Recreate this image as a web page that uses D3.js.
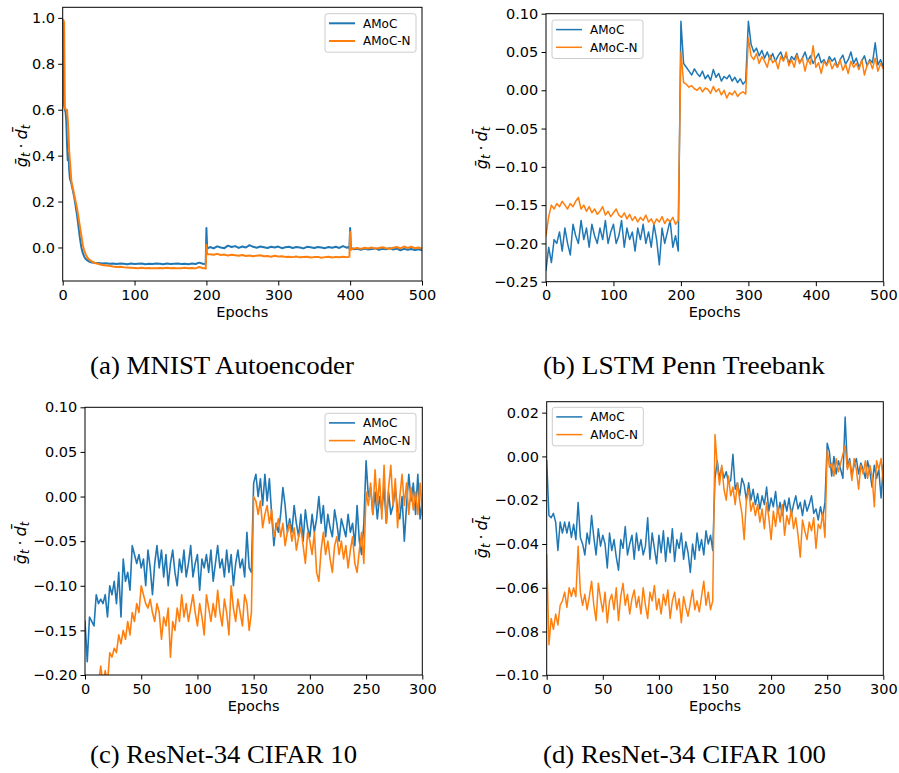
<!DOCTYPE html>
<html><head><meta charset="utf-8">
<script src="https://cdn.jsdelivr.net/npm/d3@7"></script>
<style>
html,body{margin:0;padding:0;background:#fff;}
svg{display:block;}
</style></head>
<body>
<svg id="chart" width="899" height="773"></svg>
<script>
// ---------- DATA ----------
const seriesNames = ["AMoC", "AMoC-N"];
const captions = ["(a) MNIST Autoencoder", "(b) LSTM Penn Treebank", "(c) ResNet-34 CIFAR 10", "(d) ResNet-34 CIFAR 100"];
const xLabel = "Epochs";

// (a) MNIST Autoencoder
const aEpochs = [0,1,2,3,4,5,6,7,8,9,10,12,14,16,18,20,22,24,26,28,30,32,34,36,38,40]
  .concat(d3.range(45,200,5), [198,199,200,201], d3.range(205,400,5), [398,399,400,401], d3.range(405,501,5));
const aBlue = [0.99,0.95,0.62,0.6,0.59,0.55,0.45,0.38,0.41,0.34,0.3,0.28,0.25,0.22,0.18,0.14,0.09,0.04,0.0,-0.025,-0.04,-0.05,-0.055,-0.06,-0.063,-0.065,
  -0.067,-0.068,-0.07,-0.069,-0.071,-0.07,-0.072,-0.07,-0.071,-0.073,-0.07,-0.072,-0.071,-0.07,-0.073,-0.071,-0.072,-0.07,-0.071,-0.073,-0.07,-0.072,-0.071,-0.07,-0.072,-0.071,-0.073,-0.07,-0.072,-0.066,-0.071,
  -0.072,-0.07,0.085,-0.005,
  0.002,-0.004,0.005,0.0,-0.003,0.008,0.002,0.006,-0.002,0.004,0.0,0.01,0.003,-0.001,0.004,0.001,-0.002,0.003,0.0,0.004,-0.003,0.001,0.003,-0.002,0.002,0.0,-0.004,0.003,0.001,-0.002,0.002,0.0,-0.003,0.002,-0.001,0.003,-0.002,0.006,-0.001,
  0.002,-0.005,0.085,0.0,
  -0.008,-0.006,-0.01,-0.005,-0.009,-0.007,-0.004,-0.01,-0.006,-0.008,-0.003,-0.009,-0.005,-0.012,-0.006,-0.01,-0.007,-0.011,-0.008,-0.012];
const aOrange = [0.99,0.99,0.98,0.61,0.6,0.6,0.6,0.56,0.5,0.42,0.38,0.29,0.26,0.23,0.2,0.17,0.13,0.09,0.05,0.01,-0.015,-0.03,-0.042,-0.05,-0.055,-0.06,
  -0.068,-0.072,-0.076,-0.078,-0.08,-0.083,-0.085,-0.084,-0.086,-0.087,-0.088,-0.089,-0.09,-0.088,-0.09,-0.089,-0.091,-0.09,-0.089,-0.09,-0.088,-0.09,-0.089,-0.091,-0.09,-0.088,-0.09,-0.089,-0.091,-0.085,-0.09,
  -0.09,-0.092,0.012,-0.028,
  -0.03,-0.032,-0.028,-0.033,-0.031,-0.035,-0.032,-0.034,-0.036,-0.033,-0.037,-0.035,-0.038,-0.036,-0.034,-0.038,-0.037,-0.04,-0.036,-0.039,-0.038,-0.041,-0.04,-0.042,-0.039,-0.043,-0.041,-0.04,-0.044,-0.042,-0.041,-0.045,-0.042,-0.04,-0.044,-0.041,-0.043,-0.04,-0.042,
  -0.041,-0.04,0.067,-0.01,
  -0.004,-0.002,-0.006,-0.001,-0.004,0.0,-0.005,-0.002,0.001,-0.003,-0.006,-0.001,0.002,-0.004,0.004,-0.002,0.003,-0.003,0.0,-0.005];
const aXTicks = [0,100,200,300,400,500];
const aYTicks = [0.0,0.2,0.4,0.6,0.8,1.0];

// (b) LSTM Penn Treebank
const bEpochs = d3.range(0,501,4);
const bBlue = [-0.235,-0.205,-0.225,-0.195,-0.2,-0.185,-0.21,-0.18,-0.2,-0.215,-0.175,-0.19,-0.2,-0.17,-0.195,-0.18,-0.205,-0.175,-0.19,-0.2,
  -0.18,-0.195,-0.17,-0.2,-0.185,-0.175,-0.2,-0.19,-0.17,-0.205,-0.18,-0.195,-0.185,-0.21,-0.18,-0.195,-0.175,-0.2,-0.185,-0.205,
  -0.175,-0.195,-0.228,-0.18,-0.2,-0.185,-0.17,-0.205,-0.19,-0.21,
  0.09,
  0.035,0.03,0.025,0.02,0.028,0.022,0.018,0.025,0.015,0.02,0.013,0.027,0.017,0.022,0.012,0.018,0.015,0.02,0.012,0.017,0.01,0.015,0.008,0.012,
  0.09,
  0.06,0.05,0.055,0.045,0.052,0.042,0.05,0.04,0.048,0.038,0.045,0.05,0.04,0.046,0.035,0.044,0.04,0.048,0.036,0.042,
  0.05,0.038,0.045,0.035,0.042,0.048,0.036,0.04,0.033,0.044,0.038,0.042,0.03,0.04,0.046,0.034,0.04,0.05,0.035,0.042,
  0.03,0.038,0.045,0.032,0.04,0.036,0.062,0.033,0.04,0.03];
const bOrange = [-0.19,-0.165,-0.15,-0.155,-0.148,-0.152,-0.145,-0.15,-0.155,-0.148,-0.152,-0.145,-0.14,-0.155,-0.15,-0.158,-0.152,-0.16,-0.155,-0.162,
  -0.158,-0.152,-0.163,-0.158,-0.165,-0.16,-0.155,-0.163,-0.166,-0.16,-0.168,-0.162,-0.17,-0.165,-0.172,-0.166,-0.17,-0.163,-0.172,-0.168,
  -0.175,-0.168,-0.172,-0.165,-0.174,-0.168,-0.172,-0.166,-0.175,-0.17,
  0.05,
  0.01,0.008,0.004,0.006,0.002,0.0,0.004,-0.002,0.003,0.001,-0.004,0.005,-0.002,0.002,-0.006,0.0,-0.01,-0.003,-0.006,-0.001,-0.008,-0.004,-0.002,-0.005,
  0.068,
  0.045,0.04,0.048,0.035,0.044,0.038,0.03,0.046,0.036,0.04,0.028,0.044,0.038,0.05,0.032,0.04,0.03,0.046,0.035,0.042,
  0.025,0.04,0.034,0.058,0.03,0.036,0.022,0.038,0.032,0.04,0.028,0.035,0.03,0.04,0.026,0.034,0.022,0.038,0.03,0.035,
  0.027,0.04,0.02,0.033,0.038,0.028,0.042,0.025,0.035,0.028];
const bXTicks = [0,100,200,300,400,500];
const bYTicks = [-0.25,-0.2,-0.15,-0.1,-0.05,0.0,0.05,0.1];

// (c) ResNet-34 CIFAR 10
const cEpochs = d3.range(0,301,2);
const cBlue = [-0.14,-0.185,-0.135,-0.14,-0.145,-0.11,-0.12,-0.115,-0.12,-0.11,-0.135,-0.1,-0.11,-0.095,-0.12,-0.085,-0.135,-0.07,-0.095,-0.085,
  -0.105,-0.055,-0.065,-0.075,-0.065,-0.08,-0.07,-0.1,-0.06,-0.08,-0.11,-0.075,-0.055,-0.08,-0.06,-0.09,-0.065,-0.1,-0.075,-0.06,
  -0.085,-0.1,-0.07,-0.085,-0.06,-0.09,-0.075,-0.055,-0.09,-0.075,-0.065,-0.105,-0.07,-0.08,-0.065,-0.085,-0.06,-0.095,-0.075,-0.055,
  -0.08,-0.07,-0.09,-0.06,-0.085,-0.065,-0.1,-0.075,-0.06,-0.08,-0.07,-0.09,-0.04,-0.08,-0.085,
  0.015,
  0.025,0.0,0.02,-0.01,0.025,-0.005,0.02,-0.02,-0.055,-0.03,-0.04,-0.02,0.01,-0.01,-0.04,-0.025,-0.04,-0.01,-0.03,-0.045,
  -0.02,-0.05,-0.015,-0.035,-0.045,-0.02,-0.04,-0.025,0.0,-0.03,-0.01,-0.045,-0.02,-0.035,-0.045,-0.015,-0.03,-0.05,-0.025,-0.035,
  -0.045,-0.02,-0.04,-0.03,-0.055,-0.01,-0.05,-0.065,-0.03,
  0.04,
  0.0,0.01,-0.02,0.005,-0.025,0.0,-0.015,0.01,-0.03,0.005,-0.02,-0.01,0.01,-0.015,-0.025,0.0,-0.05,-0.01,0.025,-0.005,0.015,-0.02,0.025,-0.025,-0.005];
const cOrange = [-0.27,-0.26,-0.25,-0.24,-0.235,-0.225,-0.21,-0.19,-0.21,-0.195,-0.21,-0.175,-0.18,-0.17,-0.175,-0.155,-0.165,-0.15,-0.16,-0.14,
  -0.155,-0.13,-0.14,-0.12,-0.13,-0.1,-0.11,-0.12,-0.125,-0.115,-0.13,-0.14,-0.12,-0.13,-0.16,-0.135,-0.145,-0.125,-0.18,-0.14,
  -0.15,-0.125,-0.14,-0.11,-0.135,-0.12,-0.14,-0.125,-0.11,-0.13,-0.145,-0.12,-0.135,-0.155,-0.11,-0.125,-0.14,-0.12,-0.135,-0.105,
  -0.13,-0.145,-0.115,-0.13,-0.155,-0.1,-0.125,-0.14,-0.115,-0.13,-0.145,-0.11,-0.12,-0.15,-0.13,
  0.0,
  -0.005,-0.02,-0.005,-0.035,-0.02,-0.01,-0.03,-0.015,-0.045,-0.035,-0.025,-0.045,-0.03,-0.055,-0.04,-0.03,-0.05,-0.035,-0.06,-0.045,
  -0.035,-0.055,-0.075,-0.04,-0.05,-0.065,-0.04,-0.085,-0.095,-0.06,-0.04,-0.065,-0.05,-0.07,-0.085,-0.055,-0.045,-0.065,-0.05,-0.07,
  -0.055,-0.08,-0.06,-0.045,-0.075,-0.085,-0.06,-0.04,-0.075,
  0.005,
  -0.01,0.015,-0.02,0.03,-0.01,0.02,-0.025,0.035,-0.03,0.01,0.035,-0.01,0.02,-0.035,0.0,0.025,-0.01,0.015,-0.02,0.01,-0.015,0.005,-0.02,0.015,-0.02];
const cXTicks = [0,50,100,150,200,250,300];
const cYTicks = [-0.2,-0.15,-0.1,-0.05,0.0,0.05,0.1];

// (d) ResNet-34 CIFAR 100
const dEpochs = d3.range(0,301,2);
const dBlue = [-0.002,-0.027,-0.028,-0.026,-0.03,-0.043,-0.03,-0.035,-0.03,-0.035,-0.03,-0.037,-0.031,-0.038,-0.021,-0.037,-0.04,-0.045,-0.035,-0.04,
  -0.027,-0.037,-0.045,-0.033,-0.041,-0.036,-0.04,-0.051,-0.035,-0.043,-0.038,-0.046,-0.052,-0.038,-0.042,-0.032,-0.045,-0.04,-0.036,-0.047,
  -0.035,-0.043,-0.038,-0.045,-0.041,-0.028,-0.047,-0.035,-0.042,-0.049,-0.036,-0.044,-0.034,-0.048,-0.037,-0.044,-0.033,-0.048,-0.038,-0.042,
  -0.035,-0.047,-0.039,-0.044,-0.053,-0.04,-0.047,-0.035,-0.043,-0.038,-0.045,-0.034,-0.04,-0.036,-0.043,
  -0.01,
  -0.002,-0.01,-0.005,-0.01,-0.007,-0.012,-0.011,0.001,-0.015,-0.012,-0.018,-0.01,-0.013,-0.02,-0.012,-0.02,-0.015,-0.022,-0.017,-0.024,
  -0.018,-0.022,-0.014,-0.025,-0.019,-0.023,-0.016,-0.026,-0.021,-0.027,-0.02,-0.025,-0.019,-0.027,-0.022,-0.018,-0.024,-0.021,-0.027,-0.02,
  -0.025,-0.022,-0.018,-0.026,-0.024,-0.029,-0.023,-0.028,-0.021,
  0.006,
  0.002,-0.009,0.0,-0.008,-0.002,-0.006,-0.01,0.018,-0.005,-0.001,-0.009,-0.004,-0.001,-0.008,-0.003,-0.006,-0.01,-0.002,-0.007,-0.014,-0.004,-0.01,-0.006,-0.019,-0.004];
const dOrange = [-0.045,-0.086,-0.074,-0.079,-0.072,-0.077,-0.068,-0.066,-0.062,-0.069,-0.06,-0.064,-0.06,-0.064,-0.041,-0.062,-0.068,-0.063,-0.07,-0.064,
  -0.057,-0.068,-0.075,-0.058,-0.065,-0.071,-0.062,-0.076,-0.066,-0.063,-0.07,-0.06,-0.075,-0.064,-0.058,-0.068,-0.063,-0.072,-0.065,-0.061,
  -0.069,-0.064,-0.072,-0.06,-0.068,-0.074,-0.062,-0.066,-0.059,-0.07,-0.065,-0.072,-0.063,-0.068,-0.061,-0.074,-0.066,-0.062,-0.07,-0.065,
  -0.076,-0.064,-0.069,-0.073,-0.067,-0.061,-0.07,-0.066,-0.071,-0.064,-0.057,-0.068,-0.062,-0.07,-0.066,
  0.01,
  -0.004,-0.013,-0.004,-0.015,-0.02,-0.009,-0.018,-0.014,-0.022,-0.012,-0.02,-0.026,-0.038,-0.02,-0.015,-0.025,-0.021,-0.027,-0.022,-0.03,
  -0.024,-0.033,-0.021,-0.028,-0.038,-0.025,-0.032,-0.023,-0.03,-0.022,-0.036,-0.027,-0.031,-0.024,-0.033,-0.028,-0.036,-0.046,-0.029,-0.034,
  -0.038,-0.03,-0.034,-0.028,-0.042,-0.031,-0.033,-0.026,-0.037,
  0.003,
  -0.005,-0.003,-0.009,-0.001,-0.007,-0.003,0.001,0.005,-0.006,-0.002,-0.011,-0.001,-0.006,-0.015,-0.004,-0.008,-0.002,-0.01,-0.004,-0.009,-0.023,-0.002,-0.006,-0.001,-0.012];
const dXTicks = [0,50,100,150,200,250,300];
const dYTicks = [-0.1,-0.08,-0.06,-0.04,-0.02,0.0,0.02];

// ---------- LAYOUT / STYLE ----------
const colors = ["#1f77b4", "#ff7f0e"];
const tickFont = "'DejaVu Sans', sans-serif";

const panels = [
  {epochs:aEpochs, series:[aBlue,aOrange], xTicks:aXTicks, yTicks:aYTicks, fmt:d3.format(".1f"),
   box:[62.7,7.3,422,281], xDom:[0,500], yDom:[-0.146,1.046], lw:2,
   legend:[325,13.7], ylab:[27,146], cap:[90,374,264]},
  {epochs:bEpochs, series:[bBlue,bOrange], xTicks:bXTicks, yTicks:bYTicks, fmt:d3.format(".2f"),
   box:[546,13.7,883.3,281.7], xDom:[0,500], yDom:[-0.25,0.10], lw:1.5,
   legend:[552,20], ylab:[486.5,148], cap:[543,374,282]},
  {epochs:cEpochs, series:[cBlue,cOrange], xTicks:cXTicks, yTicks:cYTicks, fmt:d3.format(".2f"),
   box:[85,407.3,422.3,675], xDom:[0,300], yDom:[-0.2,0.10], lw:1.6,
   legend:[325,413.3], ylab:[26,543], cap:[90,763,267]},
  {epochs:dEpochs, series:[dBlue,dOrange], xTicks:dXTicks, yTicks:dYTicks, fmt:d3.format(".2f"),
   box:[546.7,401.7,883.3,675.3], xDom:[0,300], yDom:[-0.1,0.025], lw:1.5,
   legend:[552.3,407.3], ylab:[486.5,537], cap:[543,763,283]}
];

const svg = d3.select("#chart");
svg.append("rect").attr("width",899).attr("height",773).attr("fill","#fff");

panels.forEach((p, pi) => {
  const [x0,y0,x1,y1] = p.box;
  const x = d3.scaleLinear().domain(p.xDom).range([x0,x1]);
  const y = d3.scaleLinear().domain(p.yDom).range([y1,y0]);
  const g = svg.append("g");

  const clipId = "clip" + pi;
  svg.append("clipPath").attr("id", clipId).append("rect")
    .attr("x", x0).attr("y", y0).attr("width", x1-x0).attr("height", y1-y0);

  // lines
  const line = d3.line().x(d => x(d[0])).y(d => y(d[1]));
  p.series.forEach((vals, si) => {
    const n = Math.min(vals.length, p.epochs.length);
    const pts = d3.range(n).map(i => [p.epochs[i], vals[i]]);
    g.append("path").datum(pts)
      .attr("clip-path", `url(#${clipId})`)
      .attr("fill","none").attr("stroke", colors[si])
      .attr("stroke-width", p.lw).attr("stroke-linejoin","round").attr("stroke-linecap","square")
      .attr("d", line);
  });

  // axes
  const xa = g.append("g").attr("transform", `translate(0,${y1})`)
    .call(d3.axisBottom(x).tickValues(p.xTicks).tickFormat(d3.format("d")).tickSize(4.5).tickPadding(3.8));
  const ya = g.append("g").attr("transform", `translate(${x0},0)`)
    .call(d3.axisLeft(y).tickValues(p.yTicks).tickFormat(p.fmt).tickSize(4.5).tickPadding(3.2));
  [xa, ya].forEach(a => {
    a.select(".domain").remove();
    a.selectAll("line").attr("stroke","#000").attr("stroke-width",1);
    a.selectAll("text").attr("fill","#000").style("font-family", tickFont).style("font-size","14.5px");
  });

  // frame
  g.append("rect").attr("x",x0).attr("y",y0).attr("width",x1-x0).attr("height",y1-y0)
    .attr("fill","none").attr("stroke","#000").attr("stroke-width",1);

  // x label
  g.append("text").attr("x",(x0+x1)/2).attr("y",y1+35.5).attr("text-anchor","middle")
    .style("font-family",tickFont).style("font-size","14.5px").text(xLabel);

  // y label  (ḡ_t · d̄_t)
  const yl = g.append("text").attr("transform",`translate(${p.ylab[0]},${p.ylab[1]}) rotate(-90)`)
    .attr("text-anchor","middle").style("font-family",tickFont).style("font-size","16px");
  yl.append("tspan").style("font-style","italic").text("\u1E21");
  yl.append("tspan").style("font-style","italic").style("font-size","11.5px").attr("dy",3).text("t");
  yl.append("tspan").attr("dy",-3).text("\u2005\u00B7\u2005");
  yl.append("tspan").style("font-style","italic").text("d\u0304");
  yl.append("tspan").style("font-style","italic").style("font-size","11.5px").attr("dy",3).text("t");

  // legend
  const [lx, ly] = p.legend;
  const lg = g.append("g");
  lg.append("rect").attr("x",lx).attr("y",ly).attr("width",91).attr("height",38.5).attr("rx",2.5)
    .attr("fill","#fff").attr("fill-opacity",0.8).attr("stroke","#cccccc").attr("stroke-width",1);
  seriesNames.forEach((nm, si) => {
    const ry = ly + 9.6 + si*17.7;
    lg.append("line").attr("x1",lx+4).attr("x2",lx+30).attr("y1",ry).attr("y2",ry)
      .attr("stroke",colors[si]).attr("stroke-width",p.lw);
    lg.append("text").attr("x",lx+38).attr("y",ry).attr("dy","0.36em")
      .style("font-family",tickFont).style("font-size","12px").attr("fill","#000").text(nm);
  });

  // caption
  svg.append("text").attr("x",p.cap[0]).attr("y",p.cap[1])
    .attr("textLength",p.cap[2]).attr("lengthAdjust","spacingAndGlyphs")
    .style("font-family","'Liberation Serif', 'Times New Roman', serif").style("font-size","24.5px")
    .attr("fill","#000").text(captions[pi]);
});
</script>
</body></html>
